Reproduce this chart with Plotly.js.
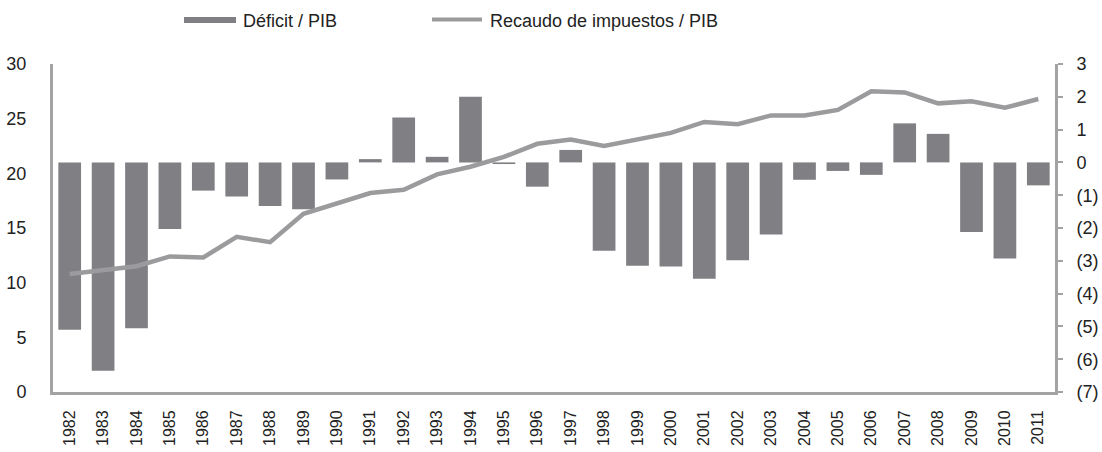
<!DOCTYPE html>
<html>
<head>
<meta charset="utf-8">
<script src="https://cdn.plot.ly/plotly-3.0.1.min.js"></script>
<style>html,body{margin:0;padding:0;background:#fff;}#chart{width:1102px;height:452px;}</style>
</head>
<body>
<div id="chart"></div>
<script>
var years = ['1982','1983','1984','1985','1986','1987','1988','1989','1990','1991','1992','1993','1994','1995','1996','1997','1998','1999','2000','2001','2002','2003','2004','2005','2006','2007','2008','2009','2010','2011'];
var deficitPIB = [-5.1,-6.35,-5.06,-2.03,-0.86,-1.04,-1.33,-1.43,-0.52,0.1,1.37,0.17,2.0,-0.05,-0.74,0.38,-2.69,-3.15,-3.17,-3.55,-2.98,-2.2,-0.53,-0.26,-0.38,1.19,0.87,-2.12,-2.93,-0.7];
var recaudoPIB = [10.8,11.2,11.5,12.4,12.3,14.2,13.7,16.3,17.2,18.2,18.5,19.9,20.6,21.5,22.7,23.1,22.5,23.1,23.7,24.7,24.5,25.3,25.3,25.8,27.5,27.4,26.4,26.6,26.0,26.8];
var rightTickVals = [3,2,1,0,-1,-2,-3,-4,-5,-6,-7];
var rightTickText = ['3','2','1','0','(1)','(2)','(3)','(4)','(5)','(6)','(7)'];
var leftTickVals = [0,5,10,15,20,25,30];

var barColor = '#808084';
var lineColor = '#9b9b9e';
var axisColor = '#a3a3a6';

var traces = [
  {type:'bar', x:years, y:deficitPIB, yaxis:'y', name:'Déficit / PIB',
   marker:{color:barColor}, width:0.68, showlegend:false, hoverinfo:'x+y'},
  {type:'scatter', mode:'lines', x:years, y:recaudoPIB, yaxis:'y2', name:'Recaudo de impuestos / PIB',
   line:{color:lineColor, width:4.5}, showlegend:false}
];

var font = {family:'"Liberation Sans", Arial, sans-serif', size:18, color:'#222'};

var layout = {
  width:1102, height:452,
  margin:{l:53, r:47, t:64, b:60},
  paper_bgcolor:'#fff', plot_bgcolor:'#fff',
  font:font,
  xaxis:{type:'category', tickangle:-90, tickfont:{size:16, color:'#222'}, showline:true, linecolor:axisColor, linewidth:3,
         showgrid:false, zeroline:false, ticks:'', range:[-0.5,29.5], ticklabelstandoff:9},
  yaxis:{side:'right', range:[-7,3], tickvals:rightTickVals, ticktext:rightTickText, showgrid:false, zeroline:false,
         showline:true, linecolor:axisColor, linewidth:3, ticks:'outside', ticklen:5, tickwidth:2, tickcolor:axisColor,
         tickfont:{size:18, color:'#222'}, ticklabelstandoff:10},
  yaxis2:{side:'left', overlaying:'y', range:[0,30], tickvals:leftTickVals, showgrid:false, zeroline:false,
          showline:true, linecolor:axisColor, linewidth:3, ticks:'', tickfont:{size:18, color:'#222'}, ticklabelstandoff:20},
  shapes:[
    {type:'rect', xref:'paper', yref:'paper', xsizemode:'pixel', ysizemode:'pixel', xanchor:0, yanchor:1,
     x0:131, x1:183, y0:41, y1:47, fillcolor:barColor, line:{width:0}},
    {type:'line', xref:'paper', yref:'paper', xsizemode:'pixel', ysizemode:'pixel', xanchor:0, yanchor:1,
     x0:379, x1:429, y0:44.5, y1:44.5, line:{color:lineColor, width:4}}
  ],
  annotations:[
    {xref:'paper', yref:'paper', x:0, y:1, xshift:188, yshift:43, text:'Déficit / PIB', showarrow:false, xanchor:'left', yanchor:'middle', font:font},
    {xref:'paper', yref:'paper', x:0, y:1, xshift:435, yshift:43, text:'Recaudo de impuestos / PIB', showarrow:false, xanchor:'left', yanchor:'middle', font:font}
  ]
};

Plotly.newPlot('chart', traces, layout, {staticPlot:true, displayModeBar:false});
</script>
</body>
</html>
